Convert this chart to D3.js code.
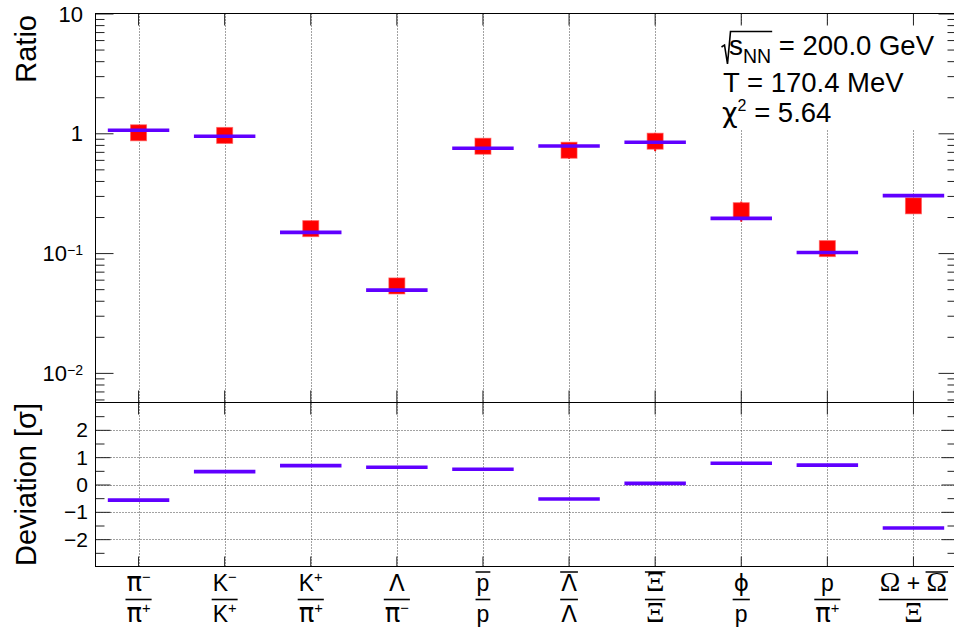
<!DOCTYPE html>
<html>
<head>
<meta charset="utf-8">
<script src="https://cdn.jsdelivr.net/npm/d3@7"></script>
<style>
body { margin: 0; background: #fff; }
</style>
</head>
<body>
<div id="chart"></div>
<script>
// ratio categories and their fraction labels (~ = overline, ^ = superscript)
var ratioNames = ["pi-/pi+", "K-/K+", "K+/pi+", "Lambda/pi-", "pbar/p", "Lbar/L", "Xibar/Xi", "phi/p", "p/pi+", "Omega/Xi"];
var numerLabels = ["π^−", "K^−", "K^+", "Λ", "~p", "~Λ", "~Ξ", "ϕ", "p", "Ω + ~Ω"];
var denomLabels = ["π^+", "K^+", "π^+", "π^−", "p", "Λ", "Ξ", "p", "π^+", "Ξ"];

// measured ratios, their errors, thermal model values and deviations
var dataValues = [1.01, 0.96, 0.160, 0.0532, 0.78, 0.722, 0.859, 0.226, 0.109, 0.248];
var dataErrors = [0.08, 0.05, 0.014, 0.005, 0.06, 0.11, 0.15, 0.043, 0.008, 0.03];
var modelValues = [1.06, 0.944, 0.149, 0.0491, 0.75, 0.783, 0.841, 0.195, 0.101, 0.302];
var deviations = [-0.57, 0.47, 0.69, 0.63, 0.56, -0.53, 0.04, 0.78, 0.71, -1.59];

var ratioTicks = [0.01, 0.1, 1, 10];
var ratioTickLabels = ["10^{−2}", "10^{−1}", "1", "10"];
var devTicks = [-2, -1, 0, 1, 2];
var devTickLabels = ["−2", "−1", "0", "1", "2"];

var SANS = "'Liberation Sans', Arial, Helvetica, sans-serif";
var SERIF = "'Liberation Serif', 'Times New Roman', serif";
var GREEK = "'DejaVu Sans', sans-serif";

var width = 954, height = 627;
var padLeft = 95.5, padRight = 956.5, padTop = 13.5, padMid = 402.5, padBottom = 566.5;

var svg = d3.select("#chart").append("svg")
    .attr("width", width)
    .attr("height", height)
    .style("background", "#fff");

var xScale = d3.scaleBand().domain(ratioNames).range([padLeft, padRight]).padding(0);
var bw = xScale.bandwidth();
function cx(i) { return xScale(ratioNames[i]) + bw / 2; }

var yRatio = d3.scaleLog().domain([0.00566, 10]).range([padMid, padTop]);
var yDev = d3.scaleLinear().domain([-3, 3]).range([padBottom, padMid]);

// ---- rich text helper ----
function fontFor(ch) {
    if ("ΞΩ".indexOf(ch) >= 0) return SERIF;
    if ("πΛϕχσ".indexOf(ch) >= 0) return GREEK;
    return SANS;
}
function parseRich(str, base, supDy) {
    var chars = Array.from(str), runs = [], i = 0;
    while (i < chars.length) {
        var ch = chars[i], over = false, sup = false;
        if (ch === "~") { over = true; i++; ch = chars[i]; }
        if (ch === "^") {
            sup = true; i++; ch = chars[i];
            if (ch === "{") {
                var j = chars.indexOf("}", i);
                ch = chars.slice(i + 1, j).join("");
                i = j;
            }
        }
        var size = sup ? base * 0.64 : base;
        if (ch === "π") size *= 1.12;
        if (ch === "Ω") size *= 1.2;
        if (ch === "Ξ") size *= 1.25;
        runs.push({ t: ch, size: size, dy: sup ? supDy : 0, font: sup ? SANS : fontFor(ch), over: over });
        i++;
    }
    return runs;
}
function richText(parent, runs, x, y, anchor, overY) {
    var g = parent.append("g");
    var pos = 0;
    runs.forEach(function (r) {
        var t = g.append("text")
            .attr("x", pos).attr("y", r.dy || 0)
            .style("font-family", r.font || SANS)
            .style("font-size", r.size + "px")
            .style("white-space", "pre")
            .attr("fill", "#000")
            .text(r.t);
        r.w = t.node().getComputedTextLength();
        r.x0 = pos;
        pos += r.w;
    });
    var shift = anchor === "middle" ? -pos / 2 : anchor === "end" ? -pos : 0;
    g.attr("transform", "translate(" + (x + shift) + "," + y + ")");
    runs.forEach(function (r) {
        if (r.over) {
            g.append("line")
                .attr("x1", r.x0 - 1).attr("x2", r.x0 + r.w + 1)
                .attr("y1", overY).attr("y2", overY)
                .attr("stroke", "#000").attr("stroke-width", 1.5);
        }
    });
    return { left: x + shift, right: x + shift + pos, runs: runs };
}

// ---- grid lines ----
var grid = svg.append("g").attr("stroke", "#444").attr("stroke-width", 1).attr("stroke-dasharray", "1,2");
grid.selectAll(".vgrid").data(ratioNames).enter().append("line")
    .attr("x1", function (d) { return Math.round(xScale(d) + bw / 2) + 0.5; })
    .attr("x2", function (d) { return Math.round(xScale(d) + bw / 2) + 0.5; })
    .attr("y1", padTop).attr("y2", padBottom);
grid.selectAll(".hgrid").data(devTicks).enter().append("line")
    .attr("x1", padLeft).attr("x2", padRight)
    .attr("y1", function (d) { return Math.round(yDev(d)) + 0.5; })
    .attr("y2", function (d) { return Math.round(yDev(d)) + 0.5; });

// ---- info box ----
svg.append("rect").attr("x", 705).attr("y", 25).attr("width", 235).attr("height", 105).attr("fill", "#fff");
var info = svg.append("g");
var l1 = richText(info, [
    { t: "s", size: 28 },
    { t: "NN", size: 19.5, dy: 8 },
    { t: " = 200.0 GeV", size: 27.5 }
], 729, 55, "start");
var rEnd = l1.left + l1.runs[1].x0 + l1.runs[1].w + 1;
info.append("path")
    .attr("d", "M721.5,47 L724.5,45 L727.5,64 L730.5,31.5 L" + rEnd + ",31.5")
    .attr("fill", "none").attr("stroke", "#000").attr("stroke-width", 1.6);
richText(info, [{ t: "T = 170.4 MeV", size: 27.5 }], 723, 92, "start");
richText(info, [
    { t: "χ", size: 27, font: GREEK },
    { t: "2", size: 16, dy: -11 },
    { t: " = 5.64", size: 27.5 }
], 722, 121.5, "start");

// ---- ratio panel marks ----
var marks = svg.append("g");
marks.selectAll(".err").data(dataValues).enter().append("line")
    .attr("x1", function (d, i) { return cx(i); })
    .attr("x2", function (d, i) { return cx(i); })
    .attr("y1", function (d, i) { return yRatio(d - dataErrors[i]); })
    .attr("y2", function (d, i) { return yRatio(d + dataErrors[i]); })
    .attr("stroke", "#f00").attr("stroke-width", 2);
marks.selectAll(".pt").data(dataValues).enter().append("rect")
    .attr("x", function (d, i) { return cx(i) - 8; })
    .attr("y", function (d) { return yRatio(d) - 8; })
    .attr("width", 16).attr("height", 16)
    .attr("fill", "#f00")
    .attr("stroke", "rgba(255,80,80,0.6)").attr("stroke-width", 1);
marks.selectAll(".model").data(modelValues).enter().append("line")
    .attr("x1", function (d, i) { return cx(i) - bw * 0.357; })
    .attr("x2", function (d, i) { return cx(i) + bw * 0.357; })
    .attr("y1", function (d) { return yRatio(d); })
    .attr("y2", function (d) { return yRatio(d); })
    .attr("stroke", "#6000ff").attr("stroke-width", 3.6);
marks.selectAll(".dev").data(deviations).enter().append("line")
    .attr("x1", function (d, i) { return cx(i) - bw * 0.357; })
    .attr("x2", function (d, i) { return cx(i) + bw * 0.357; })
    .attr("y1", function (d) { return yDev(d); })
    .attr("y2", function (d) { return yDev(d); })
    .attr("stroke", "#6000ff").attr("stroke-width", 3.6);

// ---- axes ----
function minorLog(scale) {
    var out = [];
    var dom = scale.domain();
    for (var e = -3; e <= 1; e++) {
        for (var m = 2; m <= 9; m++) {
            var v = m * Math.pow(10, e);
            if (v > dom[0] && v < dom[1]) out.push(v);
        }
    }
    return out;
}
function styleAxis(g) {
    g.select(".domain").remove();
    g.selectAll("line").attr("stroke", "#222");
    g.selectAll("text").remove();
}
var axes = svg.append("g");
var ratioMinor = minorLog(yRatio);
axes.append("g").attr("transform", "translate(" + padLeft + ",0)")
    .call(d3.axisLeft(yRatio).tickValues(ratioTicks).tickSize(-18).tickSizeOuter(0)).call(styleAxis);
axes.append("g").attr("transform", "translate(" + padLeft + ",0)")
    .call(d3.axisLeft(yRatio).tickValues(ratioMinor).tickSize(-9).tickSizeOuter(0)).call(styleAxis);
axes.append("g").attr("transform", "translate(" + padRight + ",0)")
    .call(d3.axisLeft(yRatio).tickValues(ratioTicks).tickSize(18).tickSizeOuter(0)).call(styleAxis);
axes.append("g").attr("transform", "translate(" + padRight + ",0)")
    .call(d3.axisLeft(yRatio).tickValues(ratioMinor).tickSize(9).tickSizeOuter(0)).call(styleAxis);

var devMinor = [-2.5, -1.5, -0.5, 0.5, 1.5, 2.5];
axes.append("g").attr("transform", "translate(" + padLeft + ",0)")
    .call(d3.axisLeft(yDev).tickValues(devTicks).tickSize(-15).tickSizeOuter(0)).call(styleAxis);
axes.append("g").attr("transform", "translate(" + padLeft + ",0)")
    .call(d3.axisLeft(yDev).tickValues(devMinor).tickSize(-9).tickSizeOuter(0)).call(styleAxis);
axes.append("g").attr("transform", "translate(" + padRight + ",0)")
    .call(d3.axisLeft(yDev).tickValues(devTicks).tickSize(15).tickSizeOuter(0)).call(styleAxis);
axes.append("g").attr("transform", "translate(" + padRight + ",0)")
    .call(d3.axisLeft(yDev).tickValues(devMinor).tickSize(9).tickSizeOuter(0)).call(styleAxis);

axes.append("g").attr("transform", "translate(0," + padTop + ")")
    .call(d3.axisBottom(xScale).tickSize(12).tickSizeOuter(0)).call(styleAxis);
axes.append("g").attr("transform", "translate(0," + padMid + ")")
    .call(d3.axisTop(xScale).tickSize(12).tickSizeOuter(0)).call(styleAxis);
axes.append("g").attr("transform", "translate(0," + padMid + ")")
    .call(d3.axisBottom(xScale).tickSize(12).tickSizeOuter(0)).call(styleAxis);
axes.append("g").attr("transform", "translate(0," + padBottom + ")")
    .call(d3.axisTop(xScale).tickSize(10).tickSizeOuter(0)).call(styleAxis);

// frames
svg.append("rect").attr("x", padLeft).attr("y", padTop).attr("width", padRight - padLeft).attr("height", padMid - padTop)
    .attr("fill", "none").attr("stroke", "#000").attr("stroke-width", 1);
svg.append("rect").attr("x", padLeft).attr("y", padMid).attr("width", padRight - padLeft).attr("height", padBottom - padMid)
    .attr("fill", "none").attr("stroke", "#000").attr("stroke-width", 1);

// ---- tick labels ----
var labels = svg.append("g");
ratioTicks.forEach(function (v, i) {
    richText(labels, parseRich(ratioTickLabels[i], 22, -6), 83, yRatio(v) + 8, "end");
});
devTicks.forEach(function (v, i) {
    richText(labels, parseRich(devTickLabels[i], 21, -6), 88, yDev(v) + 7.5, "end");
});
ratioNames.forEach(function (d, i) {
    var c = cx(i);
    var n = richText(labels, parseRich(numerLabels[i], 23, -9.5), c, 591, "middle", -19);
    var m = richText(labels, parseRich(denomLabels[i], 23, -9.5), c, 622, "middle", -19);
    labels.append("line")
        .attr("x1", Math.min(n.left, m.left) - 1).attr("x2", Math.max(n.right, m.right) + 1)
        .attr("y1", 599.5).attr("y2", 599.5)
        .attr("stroke", "#000").attr("stroke-width", 1.6);
});

// axis titles
svg.append("text")
    .attr("transform", "translate(36,15) rotate(-90)")
    .attr("text-anchor", "end")
    .style("font-family", SANS).style("font-size", "29px")
    .text("Ratio");
svg.append("text")
    .attr("transform", "translate(36,403) rotate(-90)")
    .attr("text-anchor", "end")
    .style("font-family", SANS).style("font-size", "29px")
    .text("Deviation [σ]");
</script>
</body>
</html>
